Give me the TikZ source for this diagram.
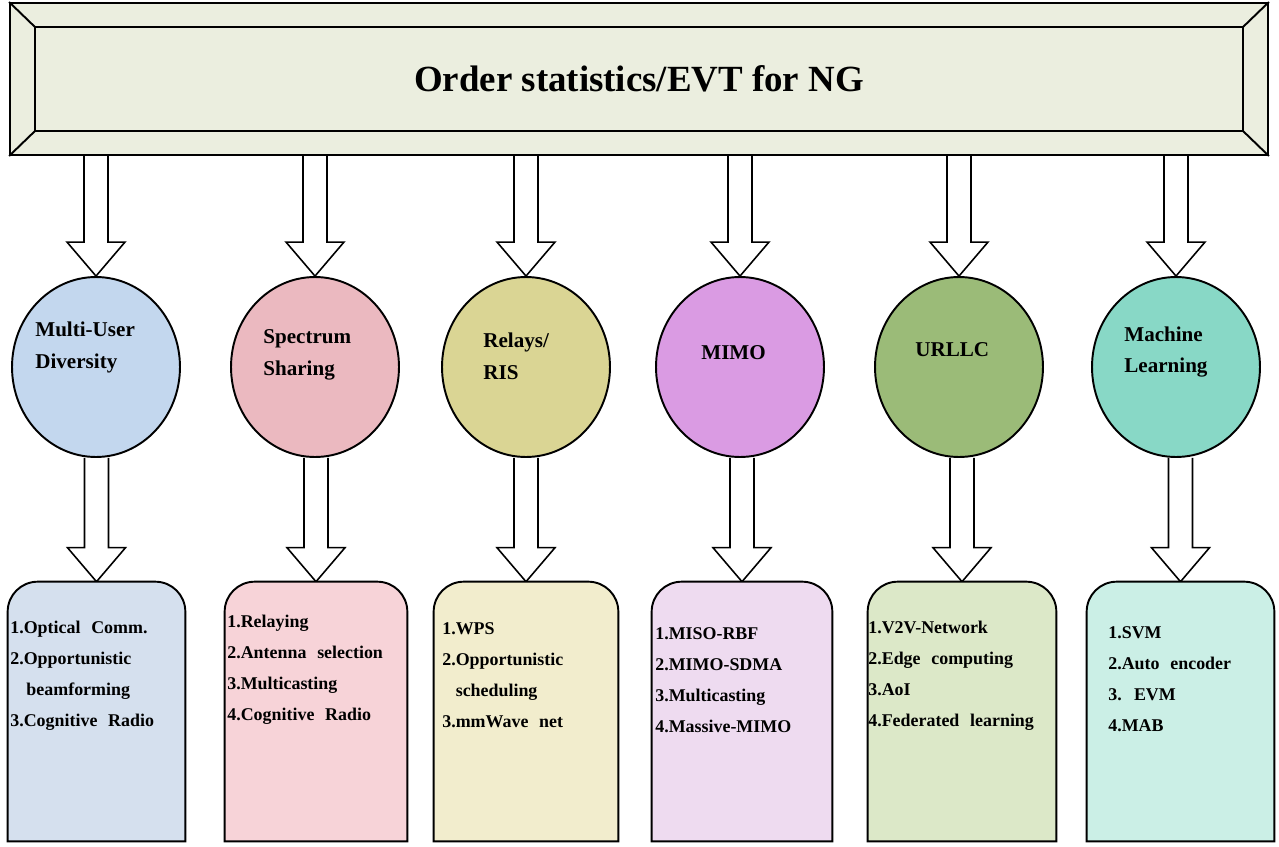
\documentclass[tikz,border=0pt]{standalone}
\usepackage{fontspec}
\setmainfont{Liberation Serif}
\usetikzlibrary{shapes.geometric,calc,backgrounds}

\definecolor{bannerfill}{HTML}{EBEEDF}
\definecolor{topicA}{HTML}{C3D7EE}
\definecolor{topicB}{HTML}{EBB9C0}
\definecolor{topicC}{HTML}{DAD594}
\definecolor{topicD}{HTML}{DA9BE3}
\definecolor{topicE}{HTML}{9BBB78}
\definecolor{topicF}{HTML}{88D8C6}
\definecolor{listA}{HTML}{D5E0EE}
\definecolor{listB}{HTML}{F7D3D8}
\definecolor{listC}{HTML}{F2EDCD}
\definecolor{listD}{HTML}{EEDBF0}
\definecolor{listE}{HTML}{DCE8C8}
\definecolor{listF}{HTML}{CBEFE6}

% wider word spaces in the lists
\newcommand{\listfont}{\fontsize{10.2}{17.6}\selectfont\bfseries\spaceskip=0.6em\relax}

% hollow block arrow from the bottom of #1 down to the top of #2
\newcommand{\hollowarrow}[2]{%
  \draw[hollow] let \p1=(#1.south), \p2=(#2.north) in
    (\x2-0.24cm,\y1) -- (\x2-0.24cm,\y2+0.68cm) -- (\x2-0.58cm,\y2+0.68cm)
    -- (\x2,\y2) -- (\x2+0.58cm,\y2+0.68cm) -- (\x2+0.24cm,\y2+0.68cm)
    -- (\x2+0.24cm,\y1);}

\begin{document}
\begin{tikzpicture}[x=0.02cm,y=-0.02cm,
    banner/.style={draw,line width=1.1pt,fill=bannerfill,minimum width=25.16cm,
      minimum height=3.04cm,inner sep=0pt,font=\fontsize{21}{25}\selectfont\bfseries},
    topic/.style={ellipse,draw,line width=1.1pt,minimum width=3.36cm,
      minimum height=3.6cm,inner sep=0pt},
    topiclabel/.style={anchor=west,align=left,inner sep=0pt,
      font=\fontsize{12}{18.2}\selectfont\bfseries},
    listbox/.style={minimum width=#1,minimum height=5.18cm,inner sep=0pt},
    listline/.style={draw,line width=1.1pt},
    listtext/.style={anchor=west,align=left,inner sep=0pt,font=\listfont},
    hollow/.style={draw,fill=white,line width=0.9pt,line join=miter}]
  \useasboundingbox (0,0) rectangle (1279,846);

  % banner
  \node[banner] (banner) at (639,79) {Order statistics/EVT for NG};
  \draw[line width=1.1pt] (35,27) rectangle (1243,131);
  \draw[line width=1.1pt] (banner.north west) -- (35,27);
  \draw[line width=1.1pt] (banner.north east) -- (1243,27);
  \draw[line width=1.1pt] (banner.south west) -- (35,131);
  \draw[line width=1.1pt] (banner.south east) -- (1243,131);

  % topics
  \node[topic,fill=topicA] (c1) at (96,367) {};
  \node[topic,fill=topicB] (c2) at (315,367) {};
  \node[topic,fill=topicC] (c3) at (526,367) {};
  \node[topic,fill=topicD] (c4) at (740,367) {};
  \node[topic,fill=topicE] (c5) at (959,367) {};
  \node[topic,fill=topicF] (c6) at (1176,367) {};
  \node[topiclabel] (l1) at (35,347) {Multi-User\\Diversity};
  \node[topiclabel] (l2) at (263,355) {Spectrum\\Sharing};
  \node[topiclabel] (l3) at (483,356) {Relays/\\RIS};
  \node[topiclabel] (l4) at (701,353) {MIMO};
  \node[topiclabel] (l5) at (915,350) {URLLC};
  \node[topiclabel] (l6) at (1124,352) {Machine\\Learning};

  % lists
  \path node[listbox=3.54cm] (b1) at (96.5,711.5) {}
        node[listbox=3.64cm] (b2) at (316,711.5) {}
        node[listbox=3.68cm] (b3) at (526,711.5) {}
        node[listbox=3.6cm] (b4) at (742,711.5) {}
        node[listbox=3.76cm] (b5) at (962,711.5) {}
        node[listbox=3.74cm] (b6) at (1180.5,711.5) {};
  \draw[listline,fill=listA] (b1.south west) [rounded corners=0.6cm] -- (b1.north west) -- (b1.north east) [sharp corners] -- (b1.south east) -- cycle;
  \draw[listline,fill=listB] (b2.south west) [rounded corners=0.6cm] -- (b2.north west) -- (b2.north east) [sharp corners] -- (b2.south east) -- cycle;
  \draw[listline,fill=listC] (b3.south west) [rounded corners=0.6cm] -- (b3.north west) -- (b3.north east) [sharp corners] -- (b3.south east) -- cycle;
  \draw[listline,fill=listD] (b4.south west) [rounded corners=0.6cm] -- (b4.north west) -- (b4.north east) [sharp corners] -- (b4.south east) -- cycle;
  \draw[listline,fill=listE] (b5.south west) [rounded corners=0.6cm] -- (b5.north west) -- (b5.north east) [sharp corners] -- (b5.south east) -- cycle;
  \draw[listline,fill=listF] (b6.south west) [rounded corners=0.6cm] -- (b6.north west) -- (b6.north east) [sharp corners] -- (b6.south east) -- cycle;

  \node[listtext] (t1) at (10,676) {1.Optical Comm.\\2.Opportunistic\\\hspace*{0.9em}beamforming\\3.Cognitive Radio};
  \node[listtext] (t2) at (227,670) {1.Relaying\\2.Antenna selection\\3.Multicasting\\4.Cognitive Radio};
  \node[listtext] (t3) at (442,675) {1.WPS\\2.Opportunistic\\\hspace*{0.75em}scheduling\\3.mmWave net};
  \node[listtext] (t4) at (655,680) {1.MISO-RBF\\2.MIMO-SDMA\\3.Multicasting\\4.Massive-MIMO};
  \node[listtext] (t5) at (868,676) {1.V2V-Network\\2.Edge computing\\3.AoI\\4.Federated learning};
  \node[listtext] (t6) at (1108,679) {1.SVM\\2.Auto encoder\\3. EVM\\4.MAB};

  % arrows
  \begin{scope}[on background layer]
    \hollowarrow{banner}{c1}
    \hollowarrow{banner}{c2}
    \hollowarrow{banner}{c3}
    \hollowarrow{banner}{c4}
    \hollowarrow{banner}{c5}
    \hollowarrow{banner}{c6}
    \hollowarrow{c1}{b1}
    \hollowarrow{c2}{b2}
    \hollowarrow{c3}{b3}
    \hollowarrow{c4}{b4}
    \hollowarrow{c5}{b5}
    \hollowarrow{c6}{b6}
  \end{scope}
\end{tikzpicture}
\end{document}
